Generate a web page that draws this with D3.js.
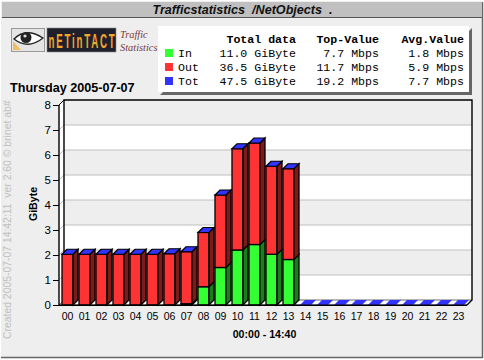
<!DOCTYPE html>
<html><head><meta charset="utf-8">
<script src="https://cdnjs.cloudflare.com/ajax/libs/d3/7.8.5/d3.min.js"></script>
<style>html,body{margin:0;padding:0;background:#fff;overflow:hidden}svg{display:block}text{font-family:"Liberation Sans",Arial,sans-serif}</style>
</head><body><svg id="c" width="484" height="360"></svg>
<script>
const hours = ["00","01","02","03","04","05","06","07","08","09","10","11","12","13","14","15","16","17","18","19","20","21","22","23"];
const inValues = [0,0,0,0,0,0,0,0.05,0.73,1.5,2.2,2.42,2.03,1.82,0,0,0,0,0,0,0,0,0,0];
const outValues = [2.03,2.03,2.03,2.03,2.03,2.03,2.05,2.08,2.17,2.9,4.05,4.06,3.52,3.63,0,0,0,0,0,0,0,0,0,0];
const yTicks = [0,1,2,3,4,5,6,7,8];
const legendNames = ["In","Out","Tot"];
const legendColors = ["#33ff33","#ff3333","#3333ff"];
const legendTotal = ["11.0 GiByte","36.5 GiByte","47.5 GiByte"];
const legendTop = ["7.7 Mbps","11.7 Mbps","19.2 Mbps"];
const legendAvg = ["1.8 Mbps","5.9 Mbps","7.7 Mbps"];

const svg = d3.select("#c");
const dx = 5, dy = 5;
const x = d3.scaleBand().domain(hours).range([59,467]).paddingInner(6/17).paddingOuter(3/17);
const y = d3.scaleLinear().domain([0,8]).range([305,105]);
const mono = '"Liberation Mono","Courier New",monospace';

// frame
svg.append("rect").attr("width",484).attr("height",360).attr("fill","#fff");
svg.append("rect").attr("x",1).attr("y",1).attr("width",481.5).attr("height",356.5).attr("fill","#eeeeee");
svg.append("path").attr("d","M482.5 2V357.5H1").attr("fill","none").attr("stroke","#666").attr("stroke-width",1.5);
svg.append("rect").attr("x",2).attr("y",2).attr("width",480).attr("height",15).attr("fill","#c0c0c0");
svg.append("line").attr("x1",2).attr("x2",482).attr("y1",17.5).attr("y2",17.5).attr("stroke","#555");
svg.append("text").attr("x",242.5).attr("y",14).attr("text-anchor","middle").attr("font-size",12.6).attr("font-weight","bold").attr("font-style","italic").attr("fill","#111").style("white-space","pre").text("Trafficstatistics  /NetObjects  .");

// logo
const logo = svg.append("g");
logo.append("rect").attr("x",11.5).attr("y",28.5).attr("width",33).attr("height",23).attr("fill","#e4e4e4").attr("stroke","#999");
logo.append("path").attr("d","M14 39 Q26 27 43 38 Q28 50 14 39Z").attr("fill","#fff").attr("stroke","#222").attr("stroke-width",1.3);
logo.append("circle").attr("cx",26).attr("cy",37.5).attr("r",5.5).attr("fill","#222");
logo.append("circle").attr("cx",25).attr("cy",36).attr("r",1.6).attr("fill","#ddd");
logo.append("path").attr("d","M13 50V41L21 50Z").attr("fill","#f0c060");
logo.append("rect").attr("x",47).attr("y",28).attr("width",69).attr("height",24).attr("fill","#20202c").attr("stroke","#888").attr("stroke-width",.6);
logo.append("text").attr("transform","translate(48.5,48) scale(0.72,1.55)").attr("font-size",13.5).attr("font-weight","bold").attr("fill","#f0a828").attr("textLength",92).attr("lengthAdjust","spacing").text("nETinTACT");
[["Traffic",38],["Statistics",51]].forEach(d=>{
  svg.append("text").attr("x",120).attr("y",d[1]).attr("font-size",10.4).attr("font-style","italic").attr("fill","#7a3a3a").style("font-family",'"Liberation Serif",serif').text(d[0]);
});

// legend
svg.append("path").attr("d","M160 95 L163 92 H469 V31 L472 28 V95Z").attr("fill","#666");
svg.append("rect").attr("x",158).attr("y",26).attr("width",311).attr("height",66).attr("fill","#fff");
const mt = (t,xp,yp,a,b)=>svg.append("text").attr("x",xp).attr("y",yp).attr("text-anchor",a).attr("font-size",11.6).attr("font-weight",b?"bold":"normal").attr("fill","#000").style("font-family",mono).text(t);
mt("Total data",296,43,"end",true); mt("Top-Value",379,43,"end",true); mt("Avg.Value",464,43,"end",true);
const rowY = d3.scalePoint().domain(legendNames).range([57,85]);
legendNames.forEach((n,i)=>{
  const yy = rowY(n);
  svg.append("rect").attr("x",165).attr("y",yy-8).attr("width",8).attr("height",8).attr("fill",legendColors[i]);
  mt(n,178,yy,"start"); mt(legendTotal[i],296,yy,"end"); mt(legendTop[i],379,yy,"end"); mt(legendAvg[i],464,yy,"end");
});
svg.append("text").attr("x",10).attr("y",92).attr("font-size",12.6).attr("font-weight","bold").attr("fill","#000").text("Thursday 2005-07-07");

// wall bands
const x0 = x.range()[0], x1 = x.range()[1];
svg.selectAll(".band").data(yTicks.slice(0,-1)).join("rect")
  .attr("x",x0+dx).attr("width",x1-x0).attr("y",d=>y(d+1)-dy).attr("height",d=>y(d)-y(d+1))
  .attr("fill",d=>d%2===1?"#eeeeee":"#ffffff");
// left side wall
svg.append("path").attr("d",`M${x0} ${y(8)}L${x0+dx} ${y(8)-dy}V${y(0)-dy}L${x0} ${y(0)}Z`).attr("fill","#fff");
// grid
svg.selectAll(".grid").data(yTicks.slice(1,-1)).join("path")
  .attr("d",d=>`M${x0} ${y(d)}L${x0+dx} ${y(d)-dy}H${x1+dx}`).attr("fill","none").attr("stroke","#c0c0c0").attr("stroke-width",1);
// floor
svg.append("path").attr("d",`M${x0} ${y(0)}L${x0+dx} ${y(0)-dy}H${x1+dx}L${x1} ${y(0)}Z`).attr("fill","#fff").attr("stroke","#000").attr("stroke-width",.6);
// wall border
svg.append("path").attr("d",`M${x0+dx} ${y(0)-dy}V${y(8)-dy}H${x1+dx}V${y(0)-dy}L${x1} ${y(0)}`).attr("fill","none").attr("stroke","#000").attr("stroke-width",1.4);
svg.append("path").attr("d",`M${x0} ${y(8)}L${x0+dx} ${y(8)-dy}`).attr("stroke","#000").attr("stroke-width",1);

// bars
const bw = x.bandwidth();
const bars = svg.selectAll(".bar").data(hours).join("g");
function seg(g,b,t,front,side){
  const xr=bw;
  g.append("rect").attr("x",0).attr("y",y(t)).attr("width",bw).attr("height",y(b)-y(t)).attr("fill",front).attr("stroke","#000").attr("stroke-width",1.3);
  g.append("path").attr("d",`M${xr} ${y(t)}L${xr+dx} ${y(t)-dy}V${y(b)-dy}L${xr} ${y(b)}Z`).attr("fill",side).attr("stroke","#000").attr("stroke-width",1.3);
}
bars.each(function(h,i){
  const g = d3.select(this).attr("transform",`translate(${x(h)},0)`);
  const a = inValues[i], o = outValues[i];
  if(a>0) seg(g,0,a,"#33ff33","#1a7f1a");
  if(o>0) seg(g,a,a+o,"#ff3333","#7f1a1a");
  const t = y(a+o);
  g.append("path").attr("d",`M0 ${t}L${dx} ${t-dy}H${bw+dx}L${bw} ${t}Z`).attr("fill","#3333ff").attr("stroke",a+o>0?"#000":"none").attr("stroke-width",1.2);
});
// baseline and axes
const yAxis = d3.axisLeft(y).tickValues(yTicks).tickSize(6).tickPadding(2).tickFormat(d3.format("d"));
const ya = svg.append("g").attr("transform",`translate(${x0},0)`).call(yAxis);
ya.selectAll("path").remove();
ya.selectAll("line").attr("stroke","#000");
ya.selectAll("text").attr("font-size",11.5).attr("fill","#000").style("font-family",'"Liberation Sans",Arial,sans-serif');
svg.append("line").attr("x1",x0).attr("x2",x0).attr("y1",y(8)).attr("y2",y(0)).attr("stroke","#000").attr("stroke-width",1.4);
svg.append("line").attr("x1",x0).attr("x2",x1).attr("y1",y(0)+.3).attr("y2",y(0)+.3).attr("stroke","#000").attr("stroke-width",1.4);
const xAxis = d3.axisBottom(x).tickSize(0).tickPadding(8);
const xa = svg.append("g").attr("transform",`translate(0,${y(0)})`).call(xAxis);
xa.selectAll("path").remove();
xa.selectAll("text").attr("font-size",10.5).attr("fill","#000").style("font-family",'"Liberation Sans",Arial,sans-serif');

svg.append("text").attr("x",264.5).attr("y",338).attr("text-anchor","middle").attr("font-size",10.6).attr("font-weight","bold").attr("fill","#000").text("00:00 - 14:40");
svg.append("text").attr("transform","translate(37,204) rotate(-90)").attr("text-anchor","middle").attr("font-size",10.6).attr("font-weight","bold").attr("fill","#000").text("GiByte");
svg.append("text").attr("transform","translate(11,339) rotate(-90)").attr("font-size",10.4).attr("fill","#c0c0c0").style("white-space","pre").text("Created 2005-07-07 14:42:11  ver 2.60 © brinet ab#");
</script></body></html>
